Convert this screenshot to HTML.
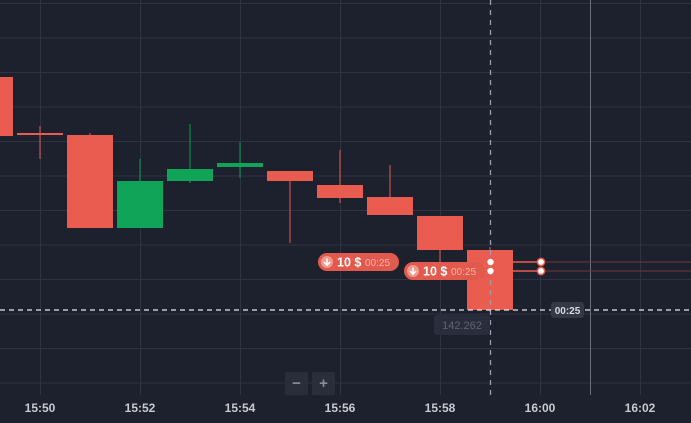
<!DOCTYPE html>
<html><head><meta charset="utf-8">
<style>
html,body{margin:0;padding:0;background:#1d202d;}
svg{display:block;font-family:"Liberation Sans",sans-serif;}
</style></head>
<body>
<svg id="chart" width="691" height="423" viewBox="0 0 691 423" xmlns="http://www.w3.org/2000/svg">
<rect x="0" y="0" width="691" height="423" fill="#1d202d"/>
<g id="grid"></g>
<g id="candles"></g>
<g id="overlay"></g>
<g id="xaxis"></g>
</svg>
<script>
// data
const times = ["15:49","15:50","15:51","15:52","15:53","15:54","15:55","15:56","15:57","15:58","15:59"];
const opens  = [142.495,142.439,142.437,142.344,142.391,142.405,142.401,142.387,142.375,142.356,142.322];
const closes = [142.436,142.438,142.344,142.391,142.403,142.409,142.391,142.374,142.357,142.322,142.262];
const highs  = [142.500,142.446,142.439,142.413,142.448,142.430,142.401,142.422,142.407,142.356,142.325];
const lows   = [142.420,142.413,142.344,142.344,142.389,142.394,142.329,142.369,142.357,142.310,142.260];
const tickLabels = ["15:50","15:52","15:54","15:56","15:58","16:00","16:02"];
const tickMinutes = [1,3,5,7,9,11,13];
const currentPrice = 142.262;
const tradePrices = [142.310,142.301];

const NS="http://www.w3.org/2000/svg";
function mk(tag,attrs,parent){const e=document.createElementNS(NS,tag);for(const k in attrs)e.setAttribute(k,attrs[k]);parent.appendChild(e);return e;}
// axis functions
const xOf = i => -10 + i*50;           // minute index -> px
const yOf = p => 310 - (p - 142.262)*1000;

const grid=document.getElementById('grid');
for(let k=0;k<12;k++){
  const y=3.5+34.5*k;
  const l=mk('line',{x1:0,x2:691,y1:y,y2:y,stroke:'#2f3343','stroke-width':1},grid);
  
  
}
for(let k=0;k<7;k++){
  const x=40.5+100*k;
  const l=mk('line',{x1:x,x2:x,y1:0,y2:395,stroke:'#2f3343','stroke-width':1},grid);
  
  
}
const cg=document.getElementById('candles');
for(let i=0;i<times.length;i++){
  const up=closes[i]>opens[i];
  const col=up?'#0fa457':'#ea5c4f';
  const cx=xOf(i);
  const w=mk('line',{x1:cx,x2:cx,y1:yOf(highs[i]),y2:yOf(lows[i]),stroke:up?'#0d8a4a':'#c4544a','stroke-width':1.2},cg);
  
  
  const top=yOf(Math.max(opens[i],closes[i])), bot=yOf(Math.min(opens[i],closes[i]));
  const b=mk('rect',{x:cx-23,y:top,width:46,height:Math.max(2,bot-top),fill:col},cg);
  
  
}
const ov=document.getElementById('overlay');
// current time line
let e=mk('line',{x1:590.5,x2:590.5,y1:0,y2:395,stroke:'#6b6f7d','stroke-width':1},ov);

e=mk('line',{x1:490.5,x2:490.5,y1:0,y2:395,stroke:'#9a9dab','stroke-width':1.3,'stroke-dasharray':'5 5'},ov);

const py=yOf(currentPrice);
e=mk('line',{x1:0,x2:691,y1:py,y2:py,stroke:'#e8e8ec','stroke-width':1.2,'stroke-dasharray':'5 4'},ov);

// price label
e=mk('rect',{x:434,y:py+5,width:56,height:20,rx:3,fill:'#2a2e3c'},ov);

e=mk('text',{x:462,y:py+19,'text-anchor':'middle','font-size':11,fill:'#5f6372'},ov);e.textContent=currentPrice.toFixed(3);

e=mk('rect',{x:551,y:py-8,width:33,height:16,rx:3,fill:'#353947'},ov);

e=mk('text',{x:567.5,y:py+4,'text-anchor':'middle','font-size':10,'font-weight':'bold',fill:'#d8d9de'},ov);e.textContent='00:25';

// trades
const tradeX=[318,404];
tradePrices.forEach((p,i)=>{
  const y=yOf(p);
  let l=mk('line',{x1:490,x2:541,y1:y,y2:y,stroke:'#ea5c4f','stroke-width':1.5},ov);
  
  l=mk('line',{x1:541,x2:691,y1:y,y2:y,stroke:'#6e3a3a','stroke-width':1},ov);
  
  let c=mk('circle',{cx:490.5,cy:y,r:3.2,fill:'#fff'},ov);
  
  c=mk('circle',{cx:541,cy:y,r:3.6,fill:'#fff',stroke:'#ea5c4f','stroke-width':1.5},ov);
  
  const bx=tradeX[i];
  const g=mk('g',{},ov);
  
  mk('rect',{x:bx,y:y-9,width:81,height:18,rx:9,fill:'#e25a4d'},g);
  mk('circle',{cx:bx+9,cy:y,r:6,fill:'#f19a90'},g);
  mk('path',{d:`M${bx+9} ${y-3.5}V${y+3} M${bx+6} ${y}L${bx+9} ${y+3.2}L${bx+12} ${y}`,stroke:'#fff','stroke-width':1.5,fill:'none'},g);
  let t=mk('text',{x:bx+19,y:y+4.5,'font-size':12.5,'font-weight':'bold',fill:'#fff'},g);t.textContent='10 $';
  t=mk('text',{x:bx+47,y:y+4,'font-size':10,fill:'#f4b1a9'},g);t.textContent='00:25';
});
// zoom buttons
[['−',285,'zoom-out-button'],['+',312,'zoom-in-button']].forEach(([s,x,n])=>{
  const g=mk('g',{},ov);
  
  mk('rect',{x:x,y:372,width:23,height:23,rx:2,fill:'#2a2d3a'},g);
  const t=mk('text',{x:x+11.5,y:388,'text-anchor':'middle','font-size':15,'font-weight':'bold',fill:'#8a8d99'},g);t.textContent=s;
});
const xa=document.getElementById('xaxis');
tickLabels.forEach((lab,i)=>{
  const t=mk('text',{x:xOf(tickMinutes[i]),y:412,'text-anchor':'middle','font-size':12,'font-weight':'bold',fill:'#c9cad0'},xa);
  t.textContent=lab;
  
});
</script>
</body></html>
